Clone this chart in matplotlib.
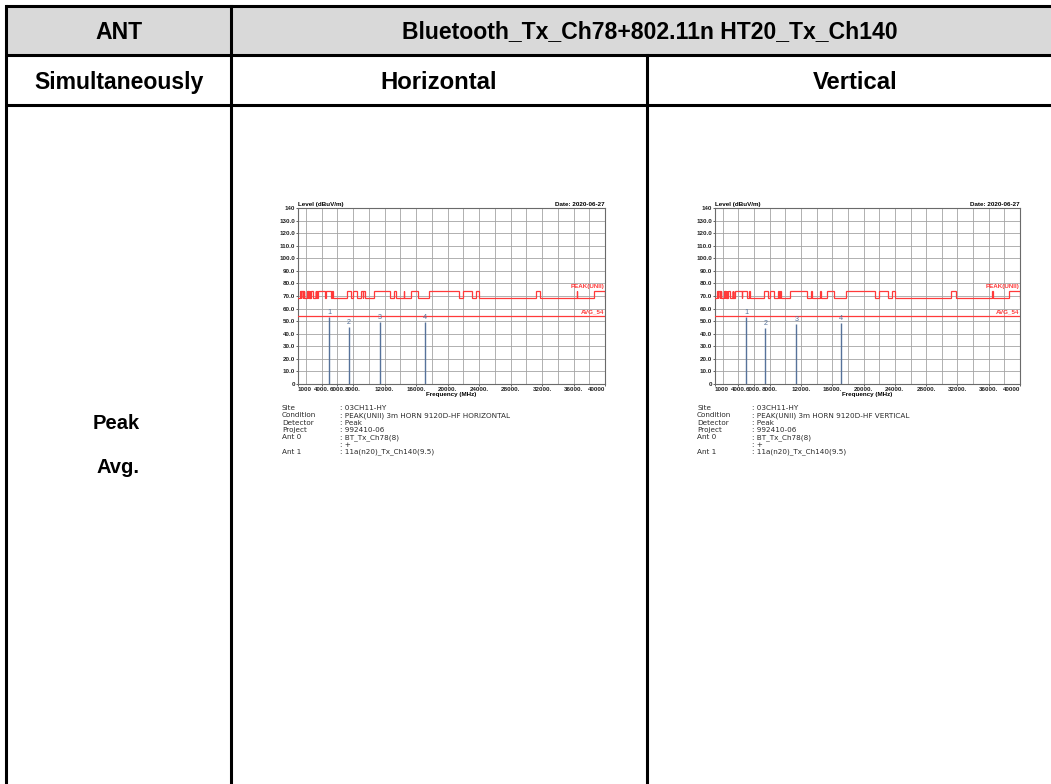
import matplotlib
matplotlib.use("Agg")
import matplotlib.pyplot as plt
from matplotlib.patches import Rectangle

plt.rcParams['font.family'] = ['Liberation Sans', 'DejaVu Sans']

W, H = 1051, 784

# ---- table text ----
header_left = "ANT"
header_right = "Bluetooth_Tx_Ch78+802.11n HT20_Tx_Ch140"
sub_headers = ["Simultaneously", "Horizontal", "Vertical"]
row_labels = ["Peak", "Avg."]

# ---- spectrum plot data ----
freq_ticks = [1000, 4000, 6000, 8000, 12000, 16000, 20000, 24000, 28000, 32000, 36000, 40000]
freq_tick_labels = ["1000", "4000.", "6000.", "8000.", "12000.", "16000.", "20000.",
                    "24000.", "28000.", "32000.", "36000.", "40000"]
level_ticks = [0, 10, 20, 30, 40, 50, 60, 70, 80, 90, 100, 110, 120, 130, 140]
level_tick_labels = ["0", "10.0", "20.0", "30.0", "40.0", "50.0", "60.0", "70.0",
                     "80.0", "90.0", "100.0", "110.0", "120.0", "130.0", "140"]

# restricted bands (MHz) where the peak limit is 74 dBuV/m, elsewhere 68.2
restricted_bands = [(1300, 1427), (1435, 1626.5), (1645.5, 1646.5), (1660, 1710),
                    (1718.8, 1722.2), (2200, 2300), (2310, 2390), (2483.5, 2500),
                    (2690, 2900), (3260, 3267), (3332, 3339), (3345.8, 3358),
                    (3600, 4400), (4500, 5150), (5350, 5460), (7250, 7750),
                    (8025, 8500), (9000, 9200), (9300, 9500), (10600, 12700),
                    (13250, 13400), (14470, 14500), (15350, 16200), (17700, 21400),
                    (22010, 23120), (23600, 24000), (31200, 31800), (36430, 36500),
                    (38600, 40000)]
peak_limit_high = 74.0
peak_limit_low = 68.2
avg_limit = 54.0

marker_ids = ["1", "2", "3", "4"]
marker_freq = [4960, 7440, 11400, 17100]
horizontal_level = [53.5, 45.5, 49.5, 49.3]
vertical_level = [53.2, 44.8, 47.6, 48.4]

info_keys = ["Site", "Condition", "Detector", "Project", "Ant 0", "", "Ant 1"]
horizontal_info = [": 03CH11-HY", ": PEAK(UNII) 3m HORN 9120D-HF HORIZONTAL", ": Peak",
                   ": 992410-06", ": BT_Tx_Ch78(8)", ": +", ": 11a(n20)_Tx_Ch140(9.5)"]
vertical_info = [": 03CH11-HY", ": PEAK(UNII) 3m HORN 9120D-HF VERTICAL", ": Peak",
                 ": 992410-06", ": BT_Tx_Ch78(8)", ": +", ": 11a(n20)_Tx_Ch140(9.5)"]
date_text = "Date: 2020-06-27"

fig = plt.figure(figsize=(W / 100, H / 100), dpi=100)
fig.patch.set_facecolor("white")

# background axes in pixel coordinates for the table
bg = fig.add_axes([0, 0, 1, 1])
bg.set_xlim(0, W)
bg.set_ylim(H, 0)
bg.axis("off")

x_left, x_c1, x_c2, x_right = 6, 231, 647, 1064
y_top, y_r1, y_r2 = 6, 55, 105

bg.add_patch(Rectangle((x_left, y_top), x_right - x_left, y_r1 - y_top,
                       facecolor="#d9d9d9", edgecolor="none", zorder=0))
lw = 2.2
for y in (y_top, y_r1, y_r2):
    bg.plot([x_left, x_right], [y, y], color="black", lw=lw, solid_capstyle="butt")
bg.plot([x_left, x_left], [y_top, H + 5], color="black", lw=lw)
bg.plot([x_c1, x_c1], [y_top, H + 5], color="black", lw=lw)
bg.plot([x_c2, x_c2], [y_r1, H + 5], color="black", lw=lw)

hfs = 16.6
bg.text((x_left + x_c1) / 2, 32, header_left, ha="center", va="center",
        fontsize=hfs, fontweight="bold")
bg.text(650, 32, header_right, ha="center", va="center",
        fontsize=hfs, fontweight="bold")
bg.text((x_left + x_c1) / 2, 82, sub_headers[0], ha="center", va="center",
        fontsize=hfs, fontweight="bold")
bg.text(439, 82, sub_headers[1], ha="center", va="center",
        fontsize=hfs + 0.6, fontweight="bold")
bg.text(855, 82, sub_headers[2], ha="center", va="center",
        fontsize=hfs + 0.6, fontweight="bold")
bg.text(116, 423, row_labels[0], ha="center", va="center", fontsize=14.5, fontweight="bold")
bg.text(118, 467, row_labels[1], ha="center", va="center", fontsize=14.5, fontweight="bold")

red = "#ff3a3a"
marker_col = "#56729a"
cfs = 4.5


def peak_limit_steps():
    xs, ys = [1000], [peak_limit_low]
    for a, b in restricted_bands:
        xs += [a, a, b, b]
        ys += [peak_limit_low, peak_limit_high, peak_limit_high, peak_limit_low]
    if xs[-1] < 40000:
        xs.append(40000)
        ys.append(ys[-1])
    return xs, ys


def draw_chart(rect_px, levels):
    x0, y0, x1, y1 = rect_px
    ax = fig.add_axes([x0 / W, 1 - y1 / H, (x1 - x0) / W, (y1 - y0) / H])
    ax.set_xlim(1000, 40000)
    ax.set_ylim(0, 140)
    for f in range(2000, 40000, 2000):
        ax.axvline(f, color="#a4a4a4", lw=0.6, zorder=1)
    for lv in range(10, 140, 10):
        ax.axhline(lv, color="#a4a4a4", lw=0.6, zorder=1)
    ax.set_xticks(freq_ticks)
    ax.set_xticklabels(freq_tick_labels, fontsize=cfs, fontweight="bold")
    labels = ax.get_xticklabels()
    labels[0].set_horizontalalignment("left")
    labels[-1].set_horizontalalignment("right")
    ax.set_yticks(level_ticks)
    ax.set_yticklabels(level_tick_labels, fontsize=cfs, fontweight="bold")
    ax.tick_params(length=1.2, width=0.5, pad=0.8, colors="#222222")
    for s in ax.spines.values():
        s.set_color("#6a6a6a")
        s.set_linewidth(0.8)

    px, py = peak_limit_steps()
    ax.plot(px, py, color=red, lw=0.9, zorder=3, solid_joinstyle="miter")
    ax.axhline(avg_limit, color=red, lw=0.9, zorder=3)
    ax.text(39900, 75.5, "PEAK(UNII)", color=red, fontsize=cfs,
            fontweight="bold", ha="right", va="bottom")
    ax.text(39900, 55.0, "AVG_54", color=red, fontsize=cfs,
            fontweight="bold", ha="right", va="bottom")

    for mid, f, lv in zip(marker_ids, marker_freq, levels):
        ax.vlines(f, 0, lv, color=marker_col, lw=1.0, zorder=4)
        ax.text(f, lv + 0.8, mid, color=marker_col, fontsize=5.2,
                ha="center", va="bottom")

    ax.text(0.0, 1.005, "Level (dBuV/m)", transform=ax.transAxes, fontsize=cfs,
            fontweight="bold", ha="left", va="bottom")
    ax.text(1.0, 1.005, date_text, transform=ax.transAxes, fontsize=cfs,
            fontweight="bold", ha="right", va="bottom")
    ax.set_xlabel("Frequency (MHz)", fontsize=cfs, fontweight="bold", labelpad=0.5)
    return ax


draw_chart((298, 208, 605, 384), horizontal_level)
draw_chart((715, 208, 1020, 384), vertical_level)

info_y = [408, 415.3, 422.6, 429.9, 437.2, 444.5, 451.8]
for keys_x, val_x, vals in ((282, 340, horizontal_info), (697, 752, vertical_info)):
    for yy, k, v in zip(info_y, info_keys, vals):
        bg.text(keys_x, yy, k, fontsize=5.2, va="center", ha="left",
                family=["DejaVu Sans"], color="#2a2a2a")
        bg.text(val_x, yy, v, fontsize=5.2, va="center", ha="left",
                family=["DejaVu Sans"], color="#2a2a2a")

fig.savefig("out.png", dpi=100)
